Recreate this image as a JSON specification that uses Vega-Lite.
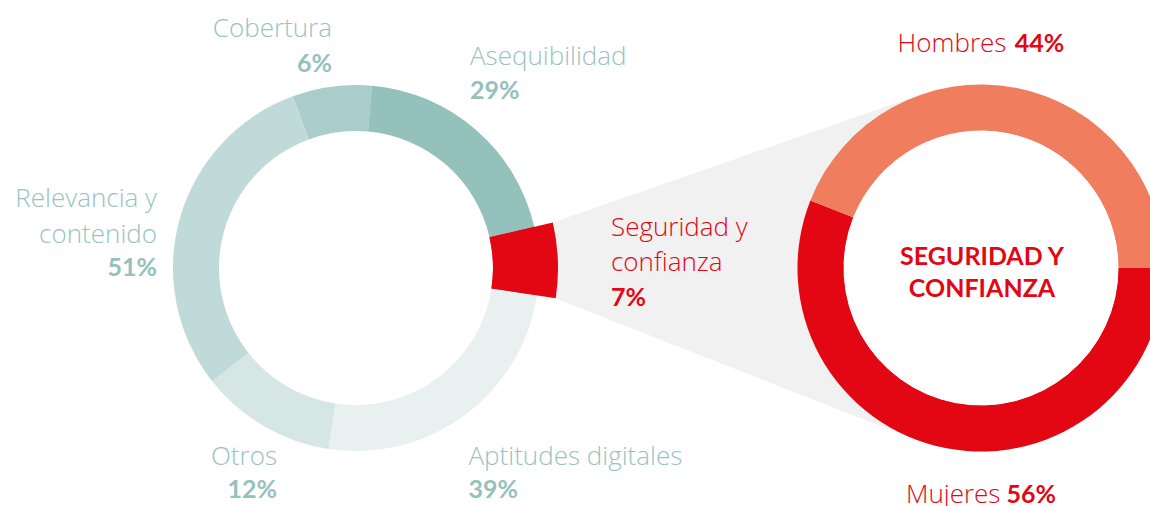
{
  "$schema": "https://vega.github.io/schema/vega-lite/v6.json",
  "width": 1150,
  "height": 506,
  "padding": 0,
  "autosize": {"type": "none"},
  "background": "white",
  "config": {"view": {"stroke": null}},
  "datasets": {
    "temas": [
      {"categoria": "Cobertura", "valor": 0.06, "arco": 7, "k": 1},
      {"categoria": "Asequibilidad", "valor": 0.29, "arco": 20, "k": 2},
      {"categoria": "Seguridad y confianza", "valor": 0.07, "arco": 6, "k": 3},
      {"categoria": "Aptitudes digitales", "valor": 0.39, "arco": 25, "k": 4},
      {"categoria": "Otros", "valor": 0.12, "arco": 12, "k": 5},
      {"categoria": "Relevancia y contenido", "valor": 0.51, "arco": 30, "k": 6}
    ],
    "genero": [
      {"categoria": "Mujeres", "valor": 0.56, "k": 1},
      {"categoria": "Hombres", "valor": 0.44, "k": 2}
    ]
  },
  "resolve": {"scale": {"theta": "independent"}},
  "layer": [
    {
      "data": {"values": [{}]},
      "mark": {"type": "arc", "theta": 1.2357, "theta2": 1.9443, "innerRadius": 70, "outerRadius": 495, "color": "#f1f1f1"},
      "encoding": {
        "x": {"datum": 451.6, "type": "quantitative", "scale": {"domain": [0, 1150], "nice": false, "zero": false}, "axis": null},
        "y": {"datum": 257.8, "type": "quantitative", "scale": {"domain": [0, 506], "reverse": true, "nice": false, "zero": false}, "axis": null}
      }
    },
    {
      "data": {"name": "temas"},
      "encoding": {
        "x": {"datum": 356, "type": "quantitative", "scale": {"domain": [0, 1150], "nice": false, "zero": false}, "axis": null},
        "y": {"datum": 268, "type": "quantitative", "scale": {"domain": [0, 506], "reverse": true, "nice": false, "zero": false}, "axis": null},
        "theta": {"field": "arco", "type": "quantitative", "stack": true, "scale": {"range": [-0.35256, 5.93063]}},
        "order": {"field": "k", "type": "quantitative"},
        "color": {
          "field": "categoria", "type": "nominal", "legend": null,
          "scale": {
            "domain": ["Cobertura", "Asequibilidad", "Seguridad y confianza", "Aptitudes digitales", "Otros", "Relevancia y contenido", "Mujeres", "Hombres"],
            "range": ["#a9cdcb", "#95c1bd", "#e30613", "#e8f1f0", "#d5e6e4", "#c0dad9", "#e30613", "#ef7d5e"]
          }
        }
      },
      "layer": [
        {"mark": {"type": "arc", "innerRadius": 137, "outerRadius": 183}},
        {
          "mark": {"type": "arc", "innerRadius": 137, "outerRadius": 202},
          "encoding": {"opacity": {"condition": {"test": "datum.categoria === 'Seguridad y confianza'", "value": 1}, "value": 0}}
        }
      ]
    },
    {
      "data": {"name": "genero"},
      "encoding": {
        "x": {"datum": 981, "type": "quantitative", "scale": {"domain": [0, 1150], "nice": false, "zero": false}, "axis": null},
        "y": {"datum": 268, "type": "quantitative", "scale": {"domain": [0, 506], "reverse": true, "nice": false, "zero": false}, "axis": null},
        "theta": {"field": "valor", "type": "quantitative", "stack": true, "scale": {"range": [1.5708, 7.85398]}},
        "order": {"field": "k", "type": "quantitative"}
      },
      "layer": [
        {
          "mark": {"type": "arc", "innerRadius": 137, "outerRadius": 183.5},
          "encoding": {
            "color": {
              "field": "categoria", "type": "nominal", "legend": null,
              "scale": {
                "domain": ["Cobertura", "Asequibilidad", "Seguridad y confianza", "Aptitudes digitales", "Otros", "Relevancia y contenido", "Mujeres", "Hombres"],
                "range": ["#a9cdcb", "#95c1bd", "#e30613", "#e8f1f0", "#d5e6e4", "#c0dad9", "#e30613", "#ef7d5e"]
              }
            }
          }
        },
        {"mark": {"type": "arc", "innerRadius": 0, "outerRadius": 137, "color": "white", "stroke": "white", "strokeWidth": 1}}
      ]
    },
    {
      "data": {"name": "temas"},
      "transform": [{"filter": "datum.categoria === 'Cobertura'"}],
      "mark": {"type": "text", "align": "right", "baseline": "alphabetic", "font": "Open Sans", "fontSize": 26, "fontWeight": 300, "color": "#98c3bf"},
      "encoding": {
        "x": {"datum": 332, "type": "quantitative"},
        "y": {"datum": 36.7, "type": "quantitative"},
        "text": {"field": "categoria"}
      }
    },
    {
      "data": {"name": "temas"},
      "transform": [{"filter": "datum.categoria === 'Cobertura'"}],
      "mark": {"type": "text", "align": "right", "baseline": "alphabetic", "font": "Lato", "fontSize": 25, "fontWeight": "bold", "color": "#95c1bd"},
      "encoding": {
        "x": {"datum": 332, "type": "quantitative"},
        "y": {"datum": 71.7, "type": "quantitative"},
        "text": {"field": "valor", "type": "quantitative", "format": ".0%"}
      }
    },
    {
      "data": {"name": "temas"},
      "transform": [{"filter": "datum.categoria === 'Asequibilidad'"}],
      "mark": {"type": "text", "align": "left", "baseline": "alphabetic", "font": "Open Sans", "fontSize": 26, "fontWeight": 300, "color": "#98c3bf"},
      "encoding": {
        "x": {"datum": 470, "type": "quantitative"},
        "y": {"datum": 65, "type": "quantitative"},
        "text": {"field": "categoria"}
      }
    },
    {
      "data": {"name": "temas"},
      "transform": [{"filter": "datum.categoria === 'Asequibilidad'"}],
      "mark": {"type": "text", "align": "left", "baseline": "alphabetic", "font": "Lato", "fontSize": 25, "fontWeight": "bold", "color": "#95c1bd"},
      "encoding": {
        "x": {"datum": 470, "type": "quantitative"},
        "y": {"datum": 99.3, "type": "quantitative"},
        "text": {"field": "valor", "type": "quantitative", "format": ".0%"}
      }
    },
    {
      "data": {"name": "temas"},
      "transform": [{"filter": "datum.categoria === 'Relevancia y contenido'"}],
      "mark": {"type": "text", "align": "right", "baseline": "alphabetic", "font": "Open Sans", "fontSize": 26, "fontWeight": 300, "color": "#98c3bf", "lineHeight": 36},
      "encoding": {
        "x": {"datum": 157, "type": "quantitative"},
        "y": {"datum": 207.3, "type": "quantitative"},
        "text": {"value": ["Relevancia y", "contenido"]}
      }
    },
    {
      "data": {"name": "temas"},
      "transform": [{"filter": "datum.categoria === 'Relevancia y contenido'"}],
      "mark": {"type": "text", "align": "right", "baseline": "alphabetic", "font": "Lato", "fontSize": 25, "fontWeight": "bold", "color": "#95c1bd"},
      "encoding": {
        "x": {"datum": 157, "type": "quantitative"},
        "y": {"datum": 275.7, "type": "quantitative"},
        "text": {"field": "valor", "type": "quantitative", "format": ".0%"}
      }
    },
    {
      "data": {"name": "temas"},
      "transform": [{"filter": "datum.categoria === 'Otros'"}],
      "mark": {"type": "text", "align": "right", "baseline": "alphabetic", "font": "Open Sans", "fontSize": 26, "fontWeight": 300, "color": "#98c3bf"},
      "encoding": {
        "x": {"datum": 277, "type": "quantitative"},
        "y": {"datum": 465, "type": "quantitative"},
        "text": {"field": "categoria"}
      }
    },
    {
      "data": {"name": "temas"},
      "transform": [{"filter": "datum.categoria === 'Otros'"}],
      "mark": {"type": "text", "align": "right", "baseline": "alphabetic", "font": "Lato", "fontSize": 25, "fontWeight": "bold", "color": "#95c1bd"},
      "encoding": {
        "x": {"datum": 277, "type": "quantitative"},
        "y": {"datum": 498.3, "type": "quantitative"},
        "text": {"field": "valor", "type": "quantitative", "format": ".0%"}
      }
    },
    {
      "data": {"name": "temas"},
      "transform": [{"filter": "datum.categoria === 'Aptitudes digitales'"}],
      "mark": {"type": "text", "align": "left", "baseline": "alphabetic", "font": "Open Sans", "fontSize": 26, "fontWeight": 300, "color": "#98c3bf"},
      "encoding": {
        "x": {"datum": 468.5, "type": "quantitative"},
        "y": {"datum": 465, "type": "quantitative"},
        "text": {"field": "categoria"}
      }
    },
    {
      "data": {"name": "temas"},
      "transform": [{"filter": "datum.categoria === 'Aptitudes digitales'"}],
      "mark": {"type": "text", "align": "left", "baseline": "alphabetic", "font": "Lato", "fontSize": 25, "fontWeight": "bold", "color": "#95c1bd"},
      "encoding": {
        "x": {"datum": 468.5, "type": "quantitative"},
        "y": {"datum": 498.3, "type": "quantitative"},
        "text": {"field": "valor", "type": "quantitative", "format": ".0%"}
      }
    },
    {
      "data": {"name": "temas"},
      "transform": [{"filter": "datum.categoria === 'Seguridad y confianza'"}],
      "mark": {"type": "text", "align": "left", "baseline": "alphabetic", "font": "Open Sans", "fontSize": 26, "fontWeight": 300, "color": "#e30613", "lineHeight": 34.7},
      "encoding": {
        "x": {"datum": 611, "type": "quantitative"},
        "y": {"datum": 236, "type": "quantitative"},
        "text": {"value": ["Seguridad y", "confianza"]}
      }
    },
    {
      "data": {"name": "temas"},
      "transform": [{"filter": "datum.categoria === 'Seguridad y confianza'"}],
      "mark": {"type": "text", "align": "left", "baseline": "alphabetic", "font": "Lato", "fontSize": 25, "fontWeight": "bold", "color": "#e30613"},
      "encoding": {
        "x": {"datum": 611, "type": "quantitative"},
        "y": {"datum": 305.7, "type": "quantitative"},
        "text": {"field": "valor", "type": "quantitative", "format": ".0%"}
      }
    },
    {
      "data": {"name": "temas"},
      "transform": [{"filter": "datum.categoria === 'Seguridad y confianza'"}],
      "mark": {"type": "text", "align": "center", "baseline": "alphabetic", "font": "Lato", "fontSize": 25, "fontWeight": "bold", "color": "#e30613", "lineHeight": 31.7},
      "encoding": {
        "x": {"datum": 982, "type": "quantitative"},
        "y": {"datum": 265, "type": "quantitative"},
        "text": {"value": ["SEGURIDAD Y", "CONFIANZA"]}
      }
    },
    {
      "data": {"name": "genero"},
      "transform": [{"filter": "datum.categoria === 'Hombres'"}],
      "mark": {"type": "text", "align": "left", "baseline": "alphabetic", "font": "Open Sans", "fontSize": 26, "fontWeight": 300, "color": "#e30613"},
      "encoding": {
        "x": {"datum": 897.5, "type": "quantitative"},
        "y": {"datum": 51.7, "type": "quantitative"},
        "text": {"field": "categoria"}
      }
    },
    {
      "data": {"name": "genero"},
      "transform": [{"filter": "datum.categoria === 'Hombres'"}],
      "mark": {"type": "text", "align": "right", "baseline": "alphabetic", "font": "Lato", "fontSize": 25, "fontWeight": "bold", "color": "#e30613"},
      "encoding": {
        "x": {"datum": 1064.3, "type": "quantitative"},
        "y": {"datum": 51.7, "type": "quantitative"},
        "text": {"field": "valor", "type": "quantitative", "format": ".0%"}
      }
    },
    {
      "data": {"name": "genero"},
      "transform": [{"filter": "datum.categoria === 'Mujeres'"}],
      "mark": {"type": "text", "align": "left", "baseline": "alphabetic", "font": "Open Sans", "fontSize": 26, "fontWeight": 300, "color": "#e30613"},
      "encoding": {
        "x": {"datum": 906, "type": "quantitative"},
        "y": {"datum": 503, "type": "quantitative"},
        "text": {"field": "categoria"}
      }
    },
    {
      "data": {"name": "genero"},
      "transform": [{"filter": "datum.categoria === 'Mujeres'"}],
      "mark": {"type": "text", "align": "right", "baseline": "alphabetic", "font": "Lato", "fontSize": 25, "fontWeight": "bold", "color": "#e30613"},
      "encoding": {
        "x": {"datum": 1056, "type": "quantitative"},
        "y": {"datum": 503, "type": "quantitative"},
        "text": {"field": "valor", "type": "quantitative", "format": ".0%"}
      }
    }
  ]
}
